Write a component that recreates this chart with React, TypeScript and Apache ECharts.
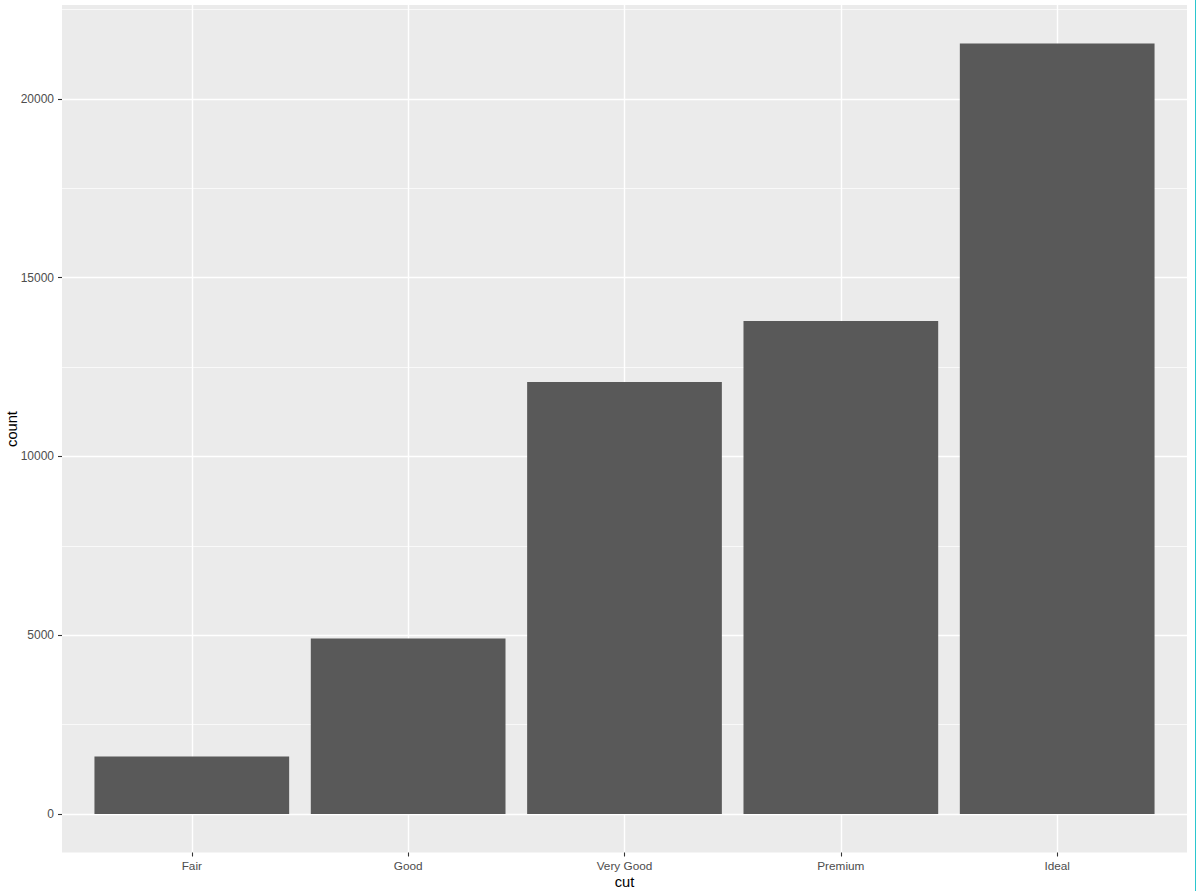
import React, { useEffect, useRef } from "react";
import * as echarts from "echarts";

const categories = ["Fair", "Good", "Very Good", "Premium", "Ideal"];
const counts = [1610, 4906, 12082, 13791, 21551];
const yMajorTicks = [0, 5000, 10000, 15000, 20000];
const yMinorTicks = [2500, 7500, 12500, 17500, 22500];
const xMinorTicks = [1.5, 2.5, 3.5, 4.5];

export default function App() {
  const ref = useRef<HTMLDivElement>(null);
  useEffect(() => {
    if (!ref.current) return;
    const chart = echarts.init(ref.current, null, { renderer: "svg" });
    const maxV = Math.max(...counts);
    const yMin = -0.05 * maxV;
    const yMax = maxV * 1.05;
    const xPositions = categories.map((_, i) => i + 1);
    const font = "Liberation Sans, Arial, sans-serif";
    const hiddenLine = { show: true, onZero: false, lineStyle: { color: "rgba(0,0,0,0)", width: 0 } };
    const option: any = {
      animation: false,
      backgroundColor: "#FFFFFF",
      grid: {
        left: 62,
        top: 5,
        width: 1125,
        height: 847.5,
        show: true,
        backgroundColor: "#EBEBEB",
        borderWidth: 0,
        containLabel: false,
      },
      xAxis: [
        {
          type: "value",
          min: 0.4,
          max: 5.6,
          position: "bottom",
          axisLine: hiddenLine,
          axisTick: {
            show: true,
            inside: false,
            customValues: xPositions,
            length: 4,
            lineStyle: { color: "#333333", width: 1.1 },
          },
          axisLabel: {
            customValues: xPositions,
            formatter: (v: number) => categories[Math.round(v) - 1] ?? "",
            color: "#4D4D4D",
            fontSize: 11.8,
            fontFamily: font,
            margin: 7,
          },
          splitLine: { show: true, lineStyle: { color: "#FFFFFF", width: 1.4 } },
        },
        {
          type: "value",
          min: 0.4,
          max: 5.6,
          position: "bottom",
          axisLine: { show: false, onZero: false },
          axisTick: { show: false, customValues: xMinorTicks },
          axisLabel: { show: false, customValues: xMinorTicks },
          splitLine: { show: false },
        },
      ],
      yAxis: [
        {
          type: "value",
          min: yMin,
          max: yMax,
          position: "left",
          axisLine: hiddenLine,
          axisTick: {
            show: true,
            inside: false,
            customValues: yMajorTicks,
            length: 4,
            lineStyle: { color: "#333333", width: 1.1 },
          },
          axisLabel: {
            customValues: yMajorTicks,
            formatter: (v: number) => String(v),
            color: "#4D4D4D",
            fontSize: 12,
            fontFamily: font,
            margin: 8,
          },
          splitLine: { show: true, lineStyle: { color: "#FFFFFF", width: 1.4 } },
        },
        {
          type: "value",
          min: yMin,
          max: yMax,
          position: "left",
          axisLine: { show: false, onZero: false },
          axisTick: { show: false, customValues: yMinorTicks },
          axisLabel: { show: false, customValues: yMinorTicks },
          splitLine: { show: true, lineStyle: { color: "#FFFFFF", width: 0.7 } },
        },
      ],
      series: [
        {
          type: "custom",
          xAxisIndex: 0,
          yAxisIndex: 0,
          data: counts.map((c, i) => [i + 1, c]),
          renderItem: (params: any, api: any) => {
            const x = api.value(0);
            const y = api.value(1);
            const p1 = api.coord([x - 0.45, y]);
            const p2 = api.coord([x + 0.45, 0]);
            return {
              type: "rect",
              shape: { x: p1[0], y: p1[1], width: p2[0] - p1[0], height: p2[1] - p1[1] },
              style: { fill: "#595959" },
            };
          },
        },
      ],
      graphic: [
        {
          type: "text",
          x: 624.5,
          y: 874,
          style: {
            text: "cut",
            fontSize: 14.67,
            fill: "#000000",
            fontFamily: font,
            align: "center",
            verticalAlign: "top",
          },
        },
        {
          type: "text",
          x: 4,
          y: 429,
          rotation: Math.PI / 2,
          style: {
            text: "count",
            fontSize: 14.67,
            fill: "#000000",
            fontFamily: font,
            align: "center",
            verticalAlign: "top",
          },
        },
        {
          type: "rect",
          shape: { x: 1195, y: 0, width: 1, height: 891 },
          style: { fill: "#2BC6CE" },
        },
      ],
    };
    chart.setOption(option);
    return () => chart.dispose();
  }, []);
  return (
    <div
      ref={ref}
      style={{ position: "fixed", left: 0, top: 0, width: 1196, height: 891 }}
    />
  );
}
